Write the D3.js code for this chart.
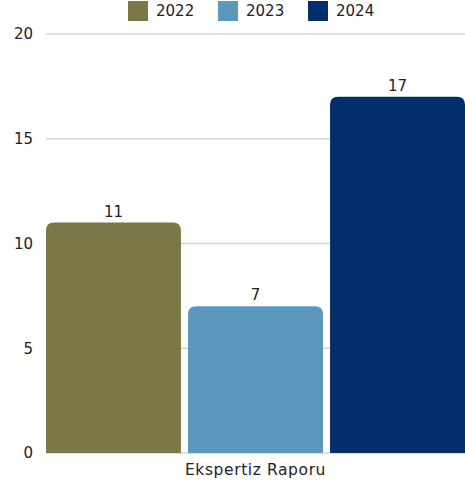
<!DOCTYPE html>
<html><head><meta charset="utf-8">
<script src="https://cdn.jsdelivr.net/npm/d3@7"></script>
<style>body{margin:0;background:#fff}svg{display:block;font-family:"DejaVu Sans",sans-serif}</style>
</head><body><div id="c"></div>
<script>
const categories = ["Ekspertiz Raporu"];
const years = ["2022","2023","2024"];
const values = [11, 7, 17];
const colors = ["#7b7746","#5b98bd","#022f6a"];
const yTicks = [0,5,10,15,20];

const W=465,H=487, L=46, R=465, T=34, B=453;
const svg=d3.select("#c").append("svg").attr("width",W).attr("height",H);
const y=d3.scaleLinear().domain([0,20]).range([B,T]);
const x0=d3.scaleBand().domain(categories).range([L,R]).padding(0);
const x1=d3.scaleBand().domain(years).range([0,x0.bandwidth()]).paddingInner(0.05).paddingOuter(0);

svg.append("g").selectAll("line").data(yTicks).join("line")
 .attr("x1",L).attr("x2",R).attr("y1",d=>y(d)).attr("y2",d=>y(d))
 .attr("stroke","#d4d4d4").attr("stroke-width",1.5);
svg.append("g").selectAll("text").data(yTicks).join("text")
 .attr("x",33).attr("y",d=>y(d)).attr("dy","0.36em").attr("text-anchor","end")
 .attr("font-size",15).attr("fill","#222").text(d=>d);

const r=8;
function topRounded(x0p,y0p,w,h){
  return `M${x0p},${y0p+h}V${y0p+r}Q${x0p},${y0p} ${x0p+r},${y0p}H${x0p+w-r}Q${x0p+w},${y0p} ${x0p+w},${y0p+r}V${y0p+h}Z`;
}
const data=years.map((yr,i)=>({yr,v:values[i],c:colors[i],cat:categories[0]}));
const g=svg.append("g");
g.selectAll("path").data(data).join("path")
 .attr("d",d=>{const xx=x0(d.cat)+x1(d.yr);return topRounded(xx,y(d.v),x1.bandwidth(),B-y(d.v));})
 .attr("fill",d=>d.c);
g.selectAll("text").data(data).join("text")
 .attr("x",d=>x0(d.cat)+x1(d.yr)+x1.bandwidth()/2).attr("y",d=>y(d.v)-6)
 .attr("text-anchor","middle").attr("font-size",15).attr("fill","#222").text(d=>d.v);

svg.selectAll(".xl").data(categories).join("text")
 .attr("x",d=>x0(d)+x0.bandwidth()/2).attr("y",475).attr("text-anchor","middle")
 .attr("font-size",15.5).attr("letter-spacing","0.6px").attr("fill","#222").text(d=>d);

const lg=svg.append("g");
const lx=[128,218,308];
years.forEach((yr,i)=>{
  lg.append("rect").attr("x",lx[i]).attr("y",1).attr("width",20).attr("height",20).attr("fill",colors[i]);
  lg.append("text").attr("x",lx[i]+28).attr("y",11).attr("dy","0.36em").attr("font-size",15).attr("fill","#222").text(yr);
});
</script></body></html>
